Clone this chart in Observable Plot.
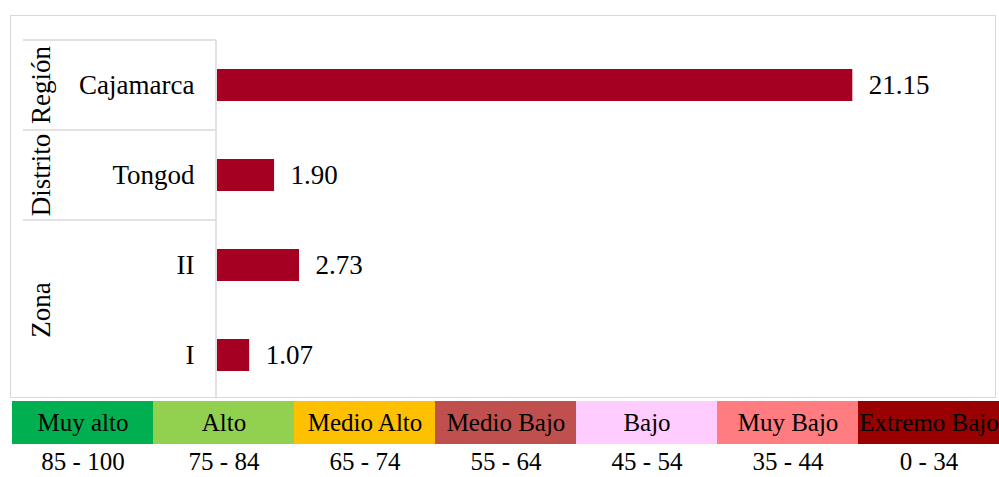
<!DOCTYPE html>
<html><head><meta charset="utf-8">
<script src="https://cdn.jsdelivr.net/npm/d3@7"></script>
<script src="https://cdn.jsdelivr.net/npm/@observablehq/plot@0.6"></script>
<style>
body{margin:0;background:#fff;font-family:"Times New Roman","Liberation Serif",serif;}
#wrap{position:relative;width:999px;height:477px;overflow:hidden;}
#frame{position:absolute;left:10px;top:15px;width:984px;height:381px;border:1px solid #D9D9D9;pointer-events:none;}
#wrap svg{display:block;}
</style></head><body><div id="wrap"><div id="frame"></div></div>
<script>
const categories = ["Cajamarca", "Tongod", "II", "I"];
const values = [21.15, 1.90, 2.73, 1.07];
const groupOf = ["Región", "Distrito", "Zona", "Zona"];
const groupNames = ["Región", "Distrito", "Zona"];
const legendLabels = ["Muy alto", "Alto", "Medio Alto", "Medio Bajo", "Bajo", "Muy Bajo", "Extremo Bajo"];
const legendRanges = ["85 - 100", "75 - 84", "65 - 74", "55 - 64", "45 - 54", "35 - 44", "0 - 34"];
const legendColors = ["#00B050", "#92D050", "#FFC000", "#C0504D", "#FFCCFF", "#FF7C80", "#990000"];
const barColor = "#A50021";
const font = "'Times New Roman','Liberation Serif',serif";

const data = categories.map((c, i) => ({category: c, value: values[i], group: groupOf[i]}));

const chart = Plot.plot({
  width: 999, height: 400,
  marginLeft: 217, marginRight: 7, marginTop: 40, marginBottom: 0,
  style: {fontFamily: font, fontSize: "27px", background: "transparent", color: "#000"},
  x: {domain: [0, 25.8], axis: null},
  y: {domain: categories, paddingInner: 0.644, paddingOuter: 0.322, label: null, tickSize: 0, tickPadding: 23},
  marks: [
    Plot.barX(data, {x: "value", y: "category", fill: barColor}),
    Plot.text(data, {x: "value", y: "category", text: d => d.value.toFixed(2), textAnchor: "start", dx: 16, fontSize: 27, fill: "#000"})
  ]
});

const wrap = document.getElementById("wrap");
wrap.appendChild(chart);

// table lines + group labels from Plot's scales
const ys = chart.scale("y"), xs = chart.scale("x");
const step = ys.apply(categories[1]) - ys.apply(categories[0]);
const half = (step - ys.bandwidth) / 2;
const edge = c => ys.apply(c) - half;
const center = c => ys.apply(c) + ys.bandwidth / 2;
const x0 = xs.apply(0) - 1;
const svg = d3.select(chart.tagName.toLowerCase() === "svg" ? chart : chart.querySelector("svg"));
const g = svg.insert("g", ":first-child").attr("stroke", "#D9D9D9").attr("stroke-width", 1.5).attr("fill", "none");
g.append("line").attr("x1", x0).attr("x2", x0).attr("y1", edge(categories[0])).attr("y2", 398);
groupNames.forEach(gn => {
  const members = categories.filter((c, i) => groupOf[i] === gn);
  const y = edge(members[0]);
  g.append("line").attr("x1", 23).attr("x2", x0).attr("y1", y).attr("y2", y);
});
const tg = svg.append("g").attr("font-family", font).attr("font-size", 27).attr("fill", "#000").attr("text-anchor", "middle");
groupNames.forEach(gn => {
  const members = categories.filter((c, i) => groupOf[i] === gn);
  const cy = d3.mean(members, center);
  tg.append("text").attr("transform", `translate(50,${cy}) rotate(-90)`).text(gn);
});

// legend
const legendData = legendLabels.map((l, i) => ({label: l, range: legendRanges[i]}));
const legend = Plot.plot({
  width: 999, height: 77,
  marginLeft: 12, marginRight: 0, marginTop: 1, marginBottom: 0,
  style: {fontFamily: font, fontSize: "25px", background: "transparent", color: "#000"},
  x: {domain: legendLabels, padding: 0, axis: null},
  y: {domain: ["label", "range"], range: [1, 87], padding: 0, axis: null},
  color: {domain: legendLabels, range: legendColors},
  marks: [
    Plot.cell(legendData, {x: "label", y: () => "label", fill: "label", inset: 0}),
    Plot.text(legendData, {x: "label", y: () => "label", text: "label", fontSize: 25, fill: "#000"}),
    Plot.text(legendData, {x: "label", y: () => "range", text: "range", fontSize: 25, fill: "#000", dy: -4})
  ]
});
wrap.appendChild(legend);
</script>
</body></html>
